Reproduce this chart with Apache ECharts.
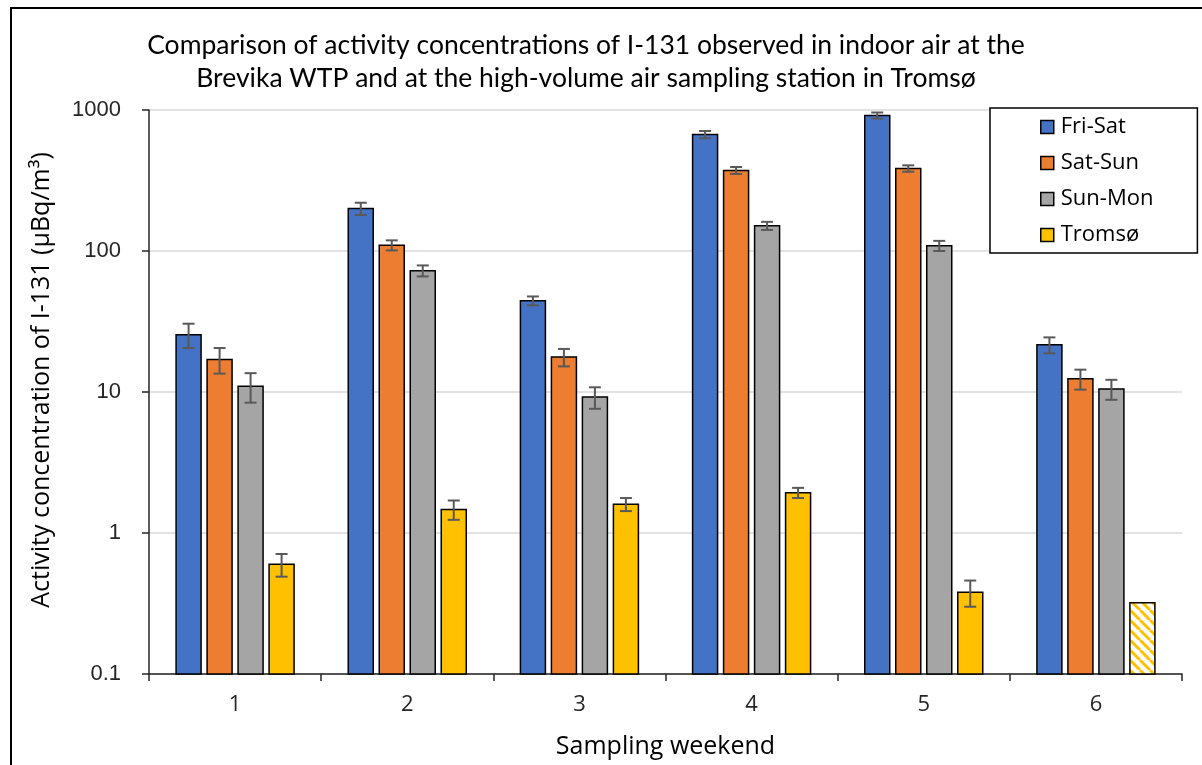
<!DOCTYPE html>
<html>
<head>
<meta charset="utf-8">
<script src="https://cdn.jsdelivr.net/npm/echarts@6/dist/echarts.min.js"></script>
<style>
  html, body { margin: 0; padding: 0; background: #ffffff; }
  #chart { width: 1202px; height: 765px; }
</style>
</head>
<body>
<div id="chart"></div>
<script>
// Sampling weekends
const categories = ['1', '2', '3', '4', '5', '6'];

// Activity concentration of I-131 (µBq/m³) and uncertainties
const friSat    = [25.5, 200, 44.4, 670, 915, 21.6];
const friSatErr = [5, 20, 3.2, 40, 45, 2.8];
const satSun    = [17, 110, 17.7, 373, 385, 12.4];
const satSunErr = [3.5, 9, 2.5, 21, 20, 2];
const sunMon    = [11, 72.5, 9.2, 151, 109, 10.5];
const sunMonErr = [2.6, 6.5, 1.6, 10, 9, 1.7];
const tromso    = [0.6, 1.47, 1.6, 1.93, 0.38, 0.32];
const tromsoErr = [0.11, 0.23, 0.17, 0.16, 0.08, null];
// Weekend 6 in Tromsø is shown hatched (no error bar)
const hatchedIndex = 5;

const yTicks = [0.1, 1, 10, 100, 1000];

const seriesNames = ['Fri-Sat', 'Sat-Sun', 'Sun-Mon', 'Tromsø'];
const seriesColors = ['#4472C4', '#ED7D31', '#A5A5A5', '#FFC000'];
const seriesValues = [friSat, satSun, sunMon, tromso];
const seriesErrors = [friSatErr, satSunErr, sunMonErr, tromsoErr];

const Y_MIN = 0.1, Y_MAX = 1000;
const BAR_W = 25;
const BAR_GAP = 6;

// diagonal hatch pattern
function hatchPattern() {
  const c = document.createElement('canvas');
  c.width = 10; c.height = 10;
  const ctx = c.getContext('2d');
  ctx.fillStyle = '#ffffff';
  ctx.fillRect(0, 0, 10, 10);
  ctx.strokeStyle = '#FFC000';
  ctx.lineWidth = 3;
  ctx.beginPath();
  for (let k = -10; k <= 20; k += 10) {
    ctx.moveTo(k, 0);
    ctx.lineTo(k + 10, 10);
  }
  ctx.stroke();
  return { image: c, repeat: 'repeat' };
}
const hatch = hatchPattern();

const chart = echarts.init(document.getElementById('chart'), null, { renderer: 'canvas' });

// bars grow from the bottom of the log axis, with error bars on top
function makeSeries(si) {
  const vals = seriesValues[si], errs = seriesErrors[si];
  return {
    name: seriesNames[si],
    type: 'custom',
    itemStyle: { color: seriesColors[si], borderColor: '#000', borderWidth: 1.5 },
    data: vals.map((v, i) => [i, v, errs[i] == null ? 0 : errs[i]]),
    encode: { x: 0, y: 1 },
    renderItem: function (params, api) {
      const ci = api.value(0), v = api.value(1), e = api.value(2);
      const off = (si - 1.5) * (BAR_W + BAR_GAP);
      const topPt = api.coord([ci, v]);
      const basePt = api.coord([ci, Y_MIN]);
      const cx = topPt[0] + off;
      const hatched = (si === 3 && params.dataIndex === hatchedIndex);
      const children = [{
        type: 'rect',
        shape: { x: cx - BAR_W / 2, y: topPt[1], width: BAR_W, height: basePt[1] - topPt[1] },
        style: { fill: hatched ? hatch : seriesColors[si], stroke: '#000', lineWidth: 1.5 }
      }];
      if (e > 0) {
        const hi = api.coord([ci, v + e])[1];
        const lo = api.coord([ci, v - e])[1];
        const cap = 6;
        const st = { stroke: '#595959', lineWidth: 2 };
        children.push(
          { type: 'line', shape: { x1: cx, y1: hi, x2: cx, y2: lo }, style: st },
          { type: 'line', shape: { x1: cx - cap, y1: hi, x2: cx + cap, y2: hi }, style: st },
          { type: 'line', shape: { x1: cx - cap, y1: lo, x2: cx + cap, y2: lo }, style: st }
        );
      }
      return { type: 'group', children: children };
    }
  };
}

chart.setOption({
  animation: false,
  backgroundColor: '#ffffff',
  title: {
    text: 'Comparison of activity concentrations of I-131 observed in indoor air at the\nBrevika WTP and at the high-volume air sampling station in Tromsø',
    left: 581,
    top: 24,
    textAlign: 'center',
    textStyle: {
      fontFamily: 'Lato',
      fontSize: 26.5,
      fontWeight: 'normal',
      color: '#000',
      lineHeight: 33
    }
  },
  legend: {
    data: seriesNames,
    orient: 'vertical',
    left: 990,
    top: 108,
    padding: [8, 44, 7, 50],
    itemGap: 14,
    itemWidth: 13,
    itemHeight: 13,
    icon: 'rect',
    itemStyle: { borderColor: '#000', borderWidth: 1.5 },
    backgroundColor: '#ffffff',
    borderColor: '#000',
    borderWidth: 1.5,
    borderRadius: 0,
    selectedMode: false,
    textStyle: { fontFamily: 'Open Sans', fontSize: 22, color: '#000', padding: [0, 0, 0, 2] }
  },
  grid: { left: 149, right: 20, top: 110, bottom: 91, containLabel: false, outerBoundsMode: 'none' },
  xAxis: {
    type: 'category',
    data: categories,
    boundaryGap: true,
    name: 'Sampling weekend',
    nameLocation: 'middle',
    nameGap: 60,
    nameTextStyle: { fontFamily: 'Open Sans', fontSize: 25, color: '#000' },
    axisLine: { lineStyle: { color: '#262626', width: 1.5 } },
    axisTick: { show: true, length: 7, lineStyle: { color: '#262626', width: 1.5 } },
    axisLabel: { fontFamily: 'Open Sans', fontSize: 22, color: '#262626', margin: 20 },
    splitLine: { show: false }
  },
  yAxis: {
    type: 'log',
    logBase: 10,
    min: Y_MIN,
    max: Y_MAX,
    axisLine: { show: true, lineStyle: { color: '#262626', width: 1.5 } },
    axisTick: { show: true, length: 7, inside: false, lineStyle: { color: '#262626', width: 1.5 } },
    axisLabel: {
      fontFamily: 'Liberation Sans', fontSize: 22, color: '#262626', margin: 28,
      formatter: function (v) {
        const t = yTicks.find(k => Math.abs(k - v) / k < 1e-6);
        return t != null ? String(t) : '';
      }
    },
    splitLine: { show: true, lineStyle: { color: '#d9d9d9', width: 1.5 } }
  },
  graphic: [
    {
      type: 'rect',
      shape: { x: 11, y: 8, width: 1230, height: 800 },
      style: { fill: null, stroke: '#000', lineWidth: 2 },
      silent: true,
      z: 100
    },
    {
      type: 'text',
      x: 42,
      y: 380,
      rotation: Math.PI / 2,
      style: {
        text: 'Activity concentration of I-131 (µBq/m³)',
        fontFamily: 'Open Sans',
        fontSize: 25,
        fill: '#000',
        align: 'center',
        verticalAlign: 'middle'
      }
    }
  ],
  series: seriesNames.map((n, si) => makeSeries(si))
});
</script>
</body>
</html>
